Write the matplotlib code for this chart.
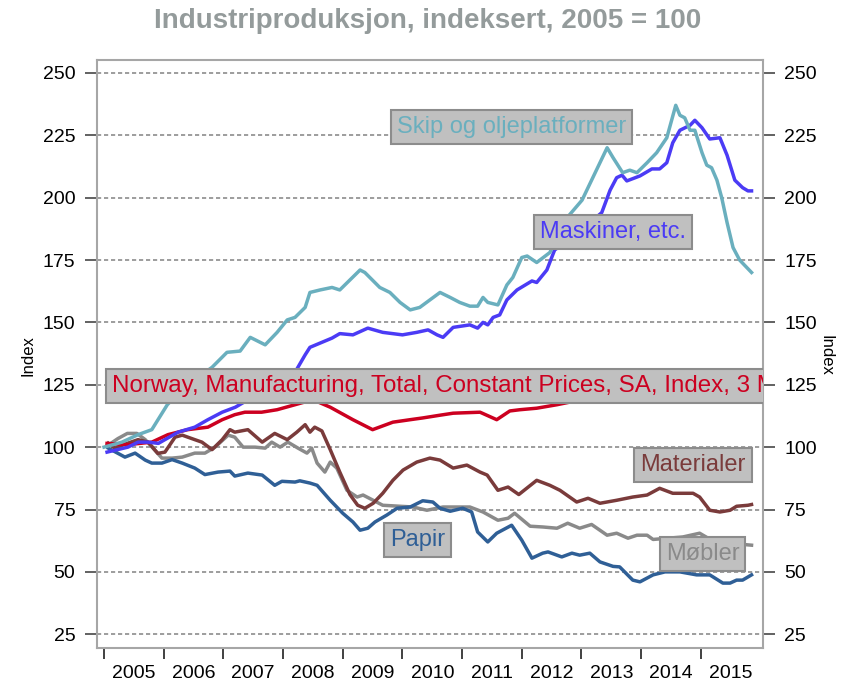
import matplotlib
matplotlib.use("Agg")
import matplotlib.pyplot as plt
from matplotlib.ticker import FixedLocator, NullFormatter

plt.rcParams["font.family"] = ["Liberation Sans", "DejaVu Sans"]

# --- data (decimal year, index 2005 = 100) ---
skip_x = [2005.0, 2005.3, 2005.57, 2005.8, 2006.06, 2006.14, 2006.52, 2006.81, 2007.06, 2007.28,
          2007.45, 2007.70, 2007.90, 2008.07, 2008.20, 2008.37, 2008.45, 2008.62, 2008.82, 2008.95,
          2009.12, 2009.29, 2009.37, 2009.62, 2009.79, 2009.96, 2010.13, 2010.29, 2010.46, 2010.63,
          2010.80, 2010.96, 2011.13, 2011.26, 2011.35, 2011.43, 2011.60, 2011.75, 2011.85, 2012.00,
          2012.09, 2012.25, 2012.47, 2012.76, 2013.01, 2013.19, 2013.31, 2013.43, 2013.53, 2013.69,
          2013.81, 2013.93, 2014.10, 2014.26, 2014.43, 2014.58, 2014.65, 2014.73, 2014.82, 2014.90,
          2015.02, 2015.10, 2015.18, 2015.27, 2015.35, 2015.44, 2015.54, 2015.65, 2015.85]
skip_y = [100, 102, 105, 107, 117, 119, 127, 132, 138, 138.5,
          144, 141, 146, 151, 152, 156, 162, 163, 164, 163,
          167, 171, 170, 164, 162, 158, 155, 156, 159, 162,
          160, 158, 156.5, 156.5, 160, 158, 157, 165, 168, 176,
          176.6, 174, 178, 192, 199, 208, 214, 220, 216, 210,
          211, 210, 214, 218, 224, 237, 233, 232, 227, 227,
          218, 213, 212, 207, 200, 190, 180, 175, 170]

mask_x = [2005.05, 2005.4, 2005.57, 2005.74, 2005.91, 2006.24, 2006.52, 2006.74, 2006.98, 2007.2,
          2007.7, 2008.2, 2008.37, 2008.45, 2008.65, 2008.82, 2008.95, 2009.17, 2009.42, 2009.67,
          2010.0, 2010.24, 2010.43, 2010.58, 2010.68, 2010.85, 2011.13, 2011.26, 2011.35, 2011.43,
          2011.52, 2011.63, 2011.75, 2011.92, 2012.17, 2012.25, 2012.42, 2012.55, 2013.0, 2013.34,
          2013.48, 2013.59, 2013.68, 2013.76, 2013.98, 2014.18, 2014.31, 2014.43, 2014.53, 2014.65,
          2014.82, 2014.90, 2015.02, 2015.15, 2015.32, 2015.44, 2015.57, 2015.70, 2015.79, 2015.85]
mask_y = [98, 100, 102, 102, 101.5, 106, 108, 111, 114, 116,
          123, 130, 137, 140, 142, 143.7, 145.5, 145, 147.7, 146,
          145, 146, 147, 145, 144, 148, 149, 147.7, 150, 149,
          152, 153, 159, 163, 166.6, 166, 171, 179, 187, 194,
          203, 208, 209, 206.7, 208.7, 211.5, 211.5, 214, 222, 227,
          229, 231, 228, 223.5, 224, 217, 207, 204, 202.7, 202.7]

total_x = [2005.05, 2005.4, 2005.8, 2006.07, 2006.4, 2006.74, 2006.98, 2007.19, 2007.36, 2007.64,
           2007.9, 2008.2, 2008.5, 2008.79, 2009.17, 2009.5, 2009.84, 2010.13, 2010.34, 2010.63,
           2010.85, 2011.30, 2011.58, 2011.80, 2011.97, 2012.25, 2012.59, 2013.0, 2013.5, 2014.0,
           2014.5, 2015.0, 2015.85]
total_y = [101.5, 101, 102, 105, 107, 108, 111, 113, 114, 114,
           115, 117, 119, 116, 111, 107, 110, 111, 111.7, 112.8,
           113.6, 114, 111, 114.5, 115, 115.6, 117, 119, 121, 122,
           122, 122, 121]

mat_x = [2005.07, 2005.18, 2005.40, 2005.57, 2005.74, 2005.90, 2006.02, 2006.19, 2006.31, 2006.52,
         2006.64, 2006.81, 2006.98, 2007.11, 2007.19, 2007.41, 2007.65, 2007.86, 2008.07, 2008.23,
         2008.37, 2008.45, 2008.53, 2008.65, 2008.79, 2008.95, 2009.12, 2009.25, 2009.37, 2009.51,
         2009.67, 2009.84, 2010.01, 2010.24, 2010.46, 2010.63, 2010.85, 2011.08, 2011.30, 2011.42,
         2011.60, 2011.77, 2011.95, 2012.25, 2012.47, 2012.64, 2012.92, 2013.11, 2013.31, 2013.59,
         2013.86, 2014.10, 2014.31, 2014.53, 2014.87, 2014.98, 2015.15, 2015.32, 2015.49, 2015.60,
         2015.79, 2015.85]
mat_y = [101.6, 99.6, 101.6, 103, 102, 97.5, 98, 104, 104.8, 103,
         102, 99, 103, 107, 106, 107, 102, 105.5, 103, 106,
         109, 106, 108, 106.5, 99, 90, 81, 76.7, 75.5, 77.5,
         81.5, 86.7, 90.8, 94, 95.6, 94.8, 91.6, 92.8, 90, 88.8,
         82.7, 84, 81, 86.7, 84.7, 82.7, 78, 79.5, 77.5, 78.7,
         80, 80.8, 83.5, 81.5, 81.5, 80, 74.7, 74, 74.7, 76.3,
         76.7, 77]

papir_x = [2005.07, 2005.35, 2005.52, 2005.69, 2005.80, 2005.97, 2006.14, 2006.31, 2006.52, 2006.69,
           2006.91, 2007.11, 2007.19, 2007.41, 2007.65, 2007.86, 2007.98, 2008.20, 2008.28, 2008.45,
           2008.57, 2008.79, 2009.00, 2009.17, 2009.29, 2009.42, 2009.54, 2009.74, 2009.91, 2010.13,
           2010.34, 2010.51, 2010.63, 2010.80, 2011.01, 2011.16, 2011.26, 2011.43, 2011.58, 2011.83,
           2012.00, 2012.17, 2012.35, 2012.44, 2012.67, 2012.84, 2012.97, 2013.14, 2013.31, 2013.53,
           2013.64, 2013.86, 2013.98, 2014.20, 2014.40, 2014.65, 2014.93, 2015.15, 2015.37, 2015.49,
           2015.60, 2015.70, 2015.85]
papir_y = [99.6, 96, 97.6, 94.8, 93.6, 93.6, 95, 93.6, 91.6, 89,
           90, 90.4, 88.4, 89.6, 88.8, 84.7, 86.3, 86, 86.5, 85.6,
           84.7, 78.7, 73.5, 70, 66.7, 67.5, 70, 72.8, 75.5, 76,
           78.5, 78, 75.5, 74.3, 75.5, 74, 66, 62, 65.5, 68.7,
           62.7, 55.5, 57.5, 58, 56, 57.5, 56.7, 57.5, 54, 52.2,
           52, 46.7, 46, 48.8, 50, 50, 48.8, 48.8, 45.5, 45.5,
           46.7, 46.7, 48.8]

mob_x = [2005.07, 2005.23, 2005.39, 2005.55, 2005.69, 2005.85, 2005.97, 2006.14, 2006.31, 2006.52,
         2006.69, 2006.86, 2007.08, 2007.19, 2007.33, 2007.53, 2007.70, 2007.81, 2007.95, 2008.08,
         2008.25, 2008.40, 2008.48, 2008.57, 2008.70, 2008.79, 2008.90, 2009.07, 2009.24, 2009.34,
         2009.51, 2009.67, 2009.96, 2010.18, 2010.41, 2010.68, 2010.91, 2011.13, 2011.35, 2011.60,
         2011.77, 2011.88, 2012.14, 2012.35, 2012.59, 2012.77, 2012.97, 2013.17, 2013.43, 2013.59,
         2013.78, 2013.93, 2014.10, 2014.20, 2014.70, 2014.98, 2015.23, 2015.85]
mob_y = [100.8, 103.4, 105.5, 105.5, 103, 98.8, 95.6, 95.6, 96, 97.6,
         97.6, 100, 104.8, 104, 100, 100, 99.6, 102, 100, 102,
         99.6, 97.6, 99.6, 93.6, 90, 94, 91.6, 82.7, 80, 80.8,
         78.7, 76.7, 76.3, 76, 74.7, 76, 76, 76, 74, 70.7,
         71.5, 73.5, 68.3, 68, 67.5, 69.5, 67.5, 69, 64.7, 65.5,
         63.5, 64.7, 64.7, 63, 64, 65.5, 62, 60.7]

years = list(range(2005, 2016))
yticks = list(range(25, 251, 25))

# --- figure ---
fig = plt.figure(figsize=(8.5, 6.87), dpi=100)
ax = fig.add_axes([0.114, 0.0568, 0.7835, 0.856])

ax.plot(mob_x, mob_y, color="#8a8a8a", lw=2.5, zorder=3)
ax.plot(papir_x, papir_y, color="#2f5f96", lw=2.5, zorder=3)
ax.plot(mat_x, mat_y, color="#7a3b3b", lw=2.5, zorder=3)
ax.plot(total_x, total_y, color="#cc0020", lw=2.5, zorder=3)
ax.plot(mask_x, mask_y, color="#4b3bf5", lw=2.5, zorder=3)
ax.plot(skip_x, skip_y, color="#6aafbe", lw=2.5, zorder=3)

ax.set_xlim(2004.88, 2016.04)
ax.set_ylim(19.5, 255.2)

ax.set_yticks(yticks)
ax.yaxis.grid(True, ls=(0, (2.5, 1.7)), color="#8c8c8c", lw=1.2)
ax.tick_params(axis="y", left=True, right=True, labelleft=True, labelright=True,
               direction="out", length=8.5, width=1.3, color="#555555",
               labelsize=14, pad=7)

ax.xaxis.set_major_locator(FixedLocator(years))
ax.xaxis.set_major_formatter(NullFormatter())
ax.xaxis.set_minor_locator(FixedLocator([y + 0.5 for y in years]))
ax.set_xticklabels([str(y) for y in years], minor=True)
ax.tick_params(axis="x", which="major", direction="out", length=8, width=1.3,
               color="#333333")
ax.tick_params(axis="x", which="minor", length=0, labelsize=14, pad=12)

for s in ax.spines.values():
    s.set_color("#a6a6a6")
    s.set_linewidth(1.5)


def label(x, y, text, color, ha="center", size=17):
    ax.text(x, y, text, color=color, fontsize=size, ha=ha, va="center", zorder=5,
            clip_on=True,
            bbox=dict(boxstyle="square,pad=0.25", fc="#c0c0c0", ec="#8c8c8c", lw=1.5))


label(2011.83, 228.3, "Skip og oljeplatformer", "#6aafbe")
label(2013.53, 186.2, "Maskiner, etc.", "#4b3bf5")
# the long series name runs past the right spine and is clipped there
label(2005.13, 124.5, "Norway, Manufacturing, Total, Constant Prices, SA, Index, 3 M",
      "#cc0020", ha="left", size=17.4)
label(2014.87, 92.8, "Materialer", "#7a3b3b")
label(2010.26, 62.7, "Papir", "#2f5f96")
label(2015.03, 57.1, "Møbler", "#8a8a8a")

fig.text(0.503, 0.97, "Industriproduksjon, indeksert, 2005 = 100", ha="center", va="center",
         fontsize=20, weight="bold", color="#949b9b")
fig.text(0.033, 0.483, "Index", rotation=90, ha="center", va="center", fontsize=12)
fig.text(0.972, 0.483, "Index", rotation=270, ha="center", va="center", fontsize=12)

fig.savefig("out.png", dpi=100)
